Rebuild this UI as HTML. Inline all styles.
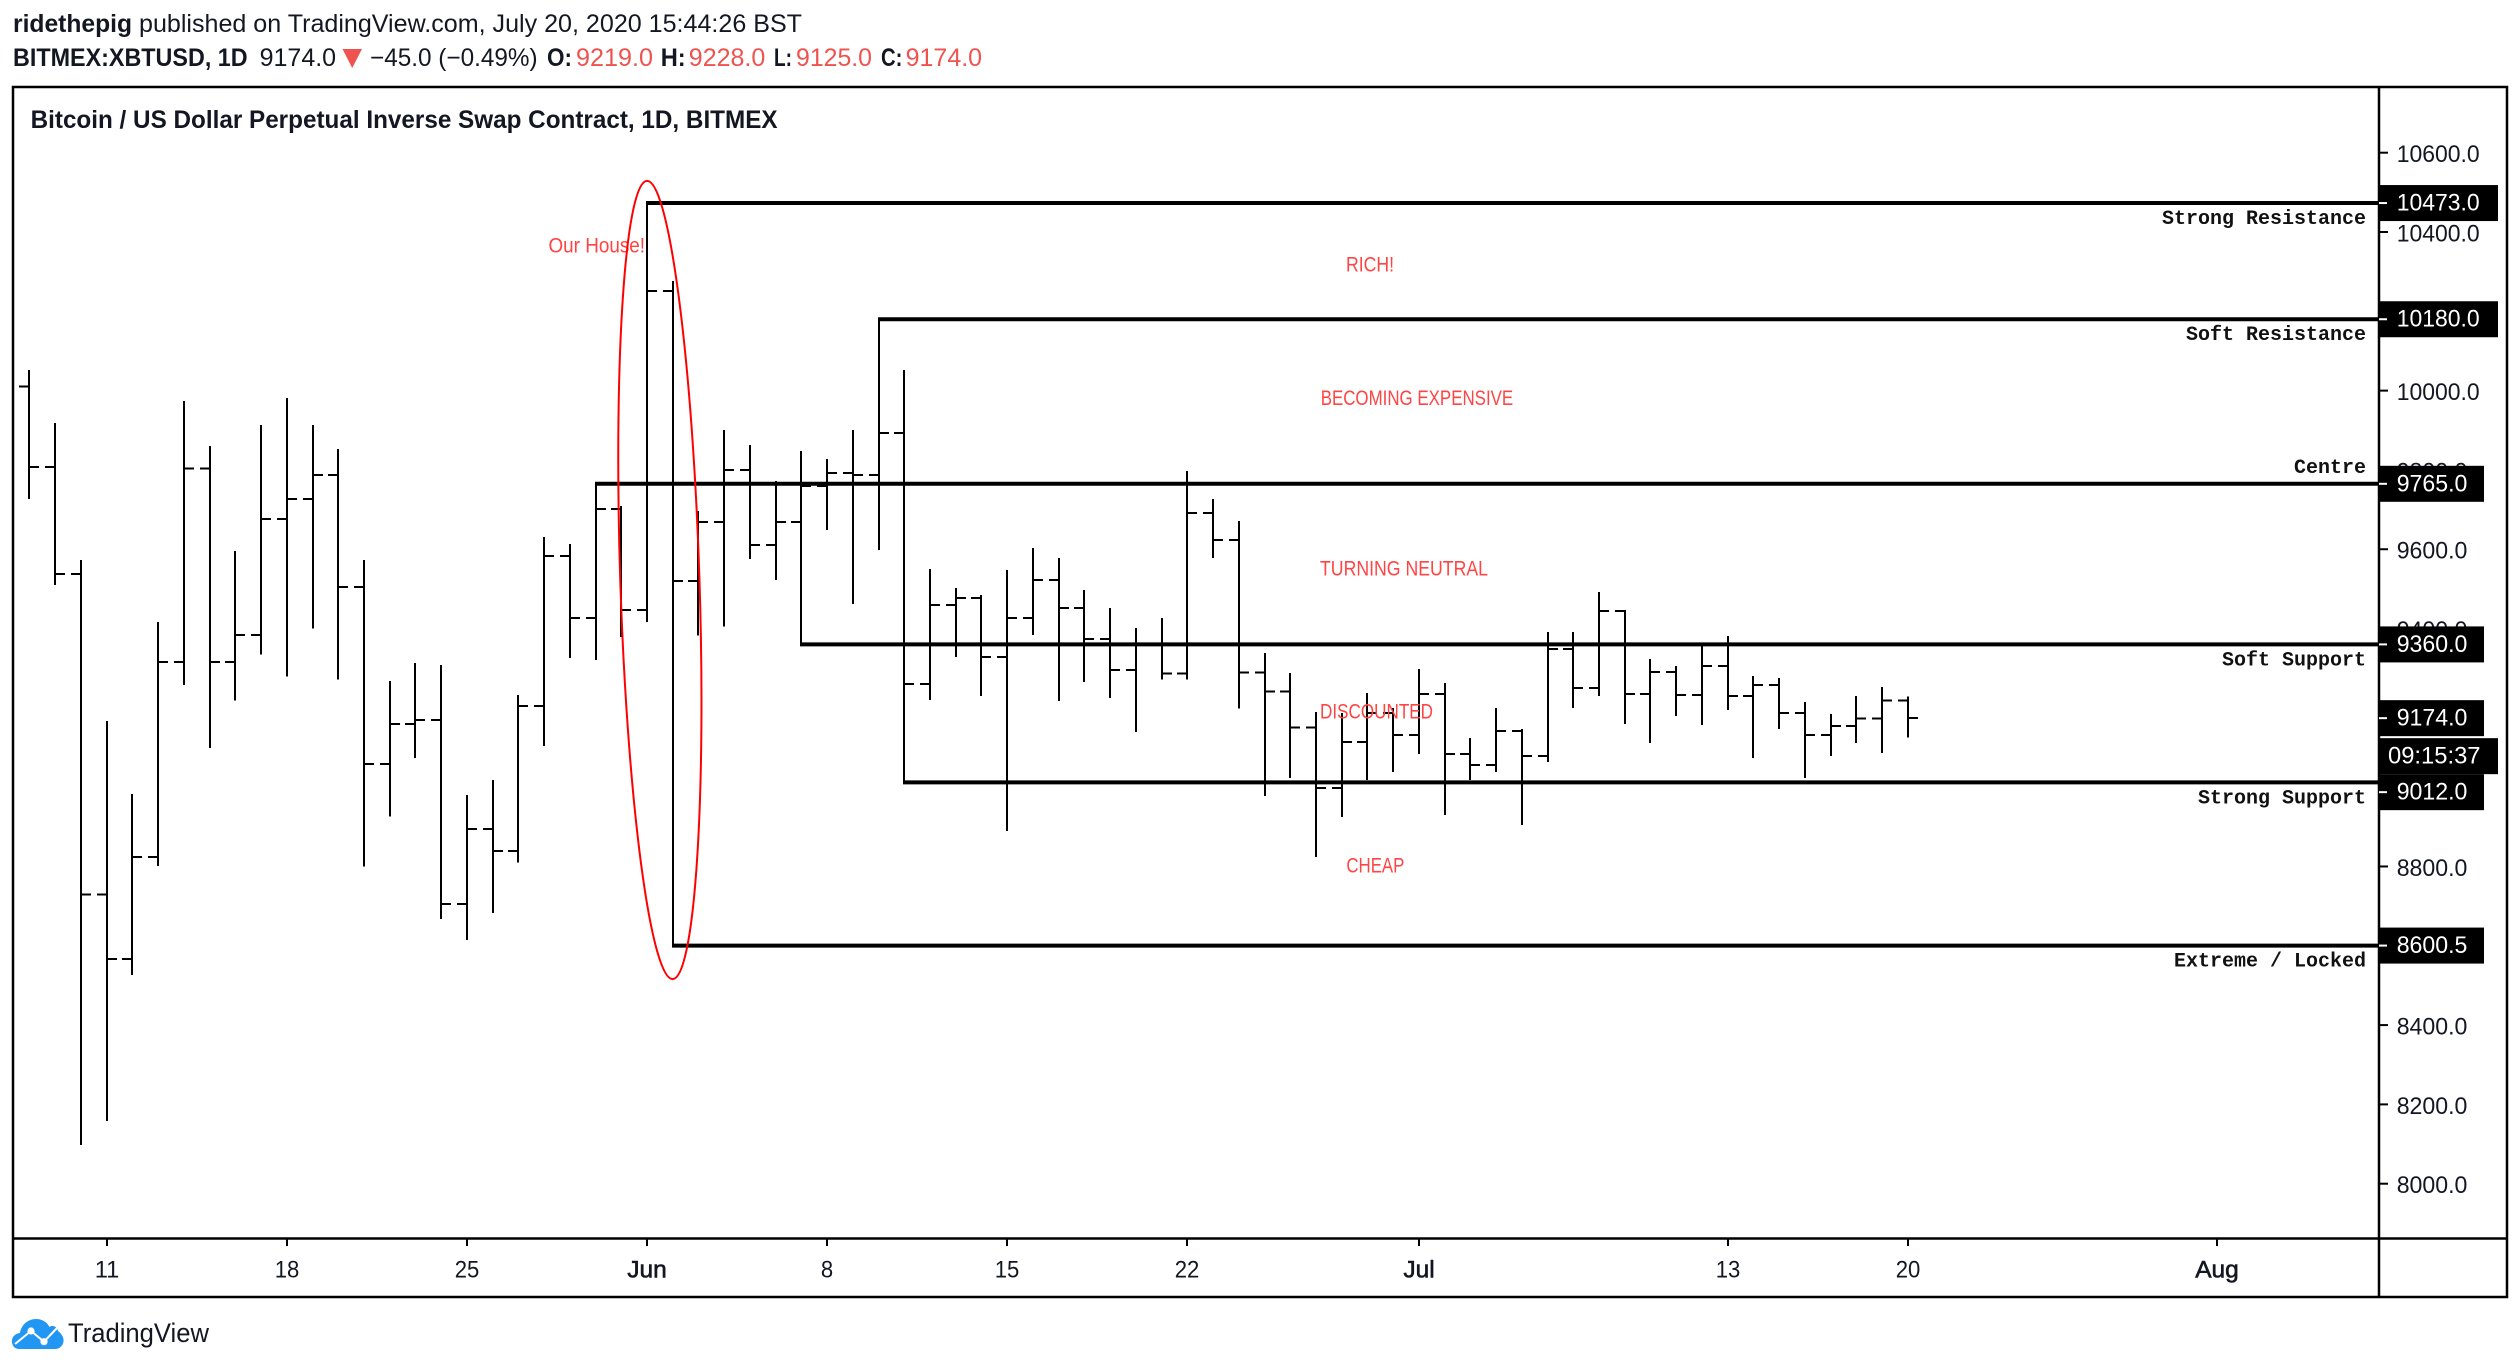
<!DOCTYPE html>
<html lang="en">
<head>
<meta charset="utf-8">
<title>BITMEX:XBTUSD 1D bar chart</title>
<style>
  html, body { margin: 0; padding: 0; background: #fff; }
  svg { display: block; }
  text { font-family: "Liberation Sans", sans-serif; }
  .mono { font-family: "Liberation Mono", monospace; font-weight: bold; font-size: 20px; fill: #111; }
  .note { font-size: 21px; fill: #ff4444; }
  .hdr { font-size: 25px; fill: #131722; }
  .red { fill: #ef5350; }
  .b { font-weight: bold; }
</style>
</head>
<body>
<svg id="chart" xmlns="http://www.w3.org/2000/svg" width="2520" height="1370" viewBox="0 0 2520 1370">
  <rect width="2520" height="1370" fill="#fff"/>

  <g dominant-baseline="central">
    <text class="hdr b" x="13" y="24" textLength="119" lengthAdjust="spacingAndGlyphs">ridethepig</text>
    <text class="hdr" x="139" y="24" textLength="663" lengthAdjust="spacingAndGlyphs">published on TradingView.com, July 20, 2020 15:44:26 BST</text>
    <text class="hdr b" x="13" y="58" textLength="234.6" lengthAdjust="spacingAndGlyphs">BITMEX:XBTUSD, 1D</text>
    <text class="hdr" x="259.6" y="58" textLength="76.5" lengthAdjust="spacingAndGlyphs">9174.0</text>
    <polygon points="342.5,49 362,49 352.2,68" fill="#ef5350"/>
    <text class="hdr" x="370" y="58" textLength="167.6" lengthAdjust="spacingAndGlyphs">−45.0 (−0.49%)</text>
    <text class="hdr b" x="547" y="58" textLength="25" lengthAdjust="spacingAndGlyphs">O:</text>
    <text class="hdr red" x="576" y="58" textLength="77" lengthAdjust="spacingAndGlyphs">9219.0</text>
    <text class="hdr b" x="660.7" y="58" textLength="25" lengthAdjust="spacingAndGlyphs">H:</text>
    <text class="hdr red" x="688.8" y="58" textLength="76.5" lengthAdjust="spacingAndGlyphs">9228.0</text>
    <text class="hdr b" x="774" y="58" textLength="18" lengthAdjust="spacingAndGlyphs">L:</text>
    <text class="hdr red" x="796" y="58" textLength="76" lengthAdjust="spacingAndGlyphs">9125.0</text>
    <text class="hdr b" x="881" y="58" textLength="21.4" lengthAdjust="spacingAndGlyphs">C:</text>
    <text class="hdr red" x="905.6" y="58" textLength="76.5" lengthAdjust="spacingAndGlyphs">9174.0</text>
  </g>

  <g id="frame" stroke="#000" stroke-width="2.5" fill="none">
    <rect x="13" y="87" width="2494" height="1210"/>
    <line x1="2379" y1="87" x2="2379" y2="1297"/>
    <line x1="13" y1="1238.5" x2="2507" y2="1238.5"/>
  </g>

  <text class="b" x="30.6" y="120" font-size="25" fill="#131722" dominant-baseline="central" textLength="747" lengthAdjust="spacingAndGlyphs">Bitcoin / US Dollar Perpetual Inverse Swap Contract, 1D, BITMEX</text>

  <g id="bars"></g>
  <g id="levels"></g>
  <g id="xaxis"></g>
  <g id="yaxis"></g>
  <g id="tags"></g>

  <g dominant-baseline="central">
    <text class="note" x="548.5" y="246" textLength="96.5" lengthAdjust="spacingAndGlyphs">Our House!</text>
    <text class="note" x="1346" y="265" textLength="48" lengthAdjust="spacingAndGlyphs">RICH!</text>
    <text class="note" x="1320.7" y="398.7" textLength="192.5" lengthAdjust="spacingAndGlyphs">BECOMING EXPENSIVE</text>
    <text class="note" x="1320" y="569" textLength="168" lengthAdjust="spacingAndGlyphs">TURNING NEUTRAL</text>
    <text class="note" x="1320" y="712" textLength="113" lengthAdjust="spacingAndGlyphs">DISCOUNTED</text>
    <text class="note" x="1346.4" y="866" textLength="58" lengthAdjust="spacingAndGlyphs">CHEAP</text>
  </g>

  <g>
    <path fill="#2196f3" d="M19 1349 C13 1349 11.5 1343 12 1340 C12.5 1336 16 1333.5 20 1333 C21 1325 28 1319 36 1319 C42 1319 47 1322 49.5 1327 C52 1325 57 1326 58 1331 C62 1334 64 1338 63.5 1341.5 C63 1346 59 1349 55 1349 Z"/>
    <polyline points="15,1344 31,1331 44,1341.7 57,1328" fill="none" stroke="#fff" stroke-width="2"/>
    <circle cx="31" cy="1331" r="3.6" fill="#fff"/>
    <circle cx="44" cy="1341.7" r="3.6" fill="#fff"/>
    <text x="68" y="1342" font-size="27" fill="#131722" textLength="141" lengthAdjust="spacingAndGlyphs">TradingView</text>
  </g>

  <g id="ellipse-layer"></g>
</svg>

<script>
// ---------- data ----------
const barDates = [
  '05-08','05-09','05-10','05-11','05-12','05-13','05-14','05-15','05-16','05-17','05-18','05-19','05-20','05-21','05-22','05-23','05-24','05-25','05-26','05-27','05-28','05-29','05-30','05-31',
  '06-01','06-02','06-03','06-04','06-05','06-06','06-07','06-08','06-09','06-10','06-11','06-12','06-13','06-14','06-15','06-16','06-17','06-18','06-19','06-20','06-21','06-22','06-23','06-24','06-25','06-26','06-27','06-28','06-29','06-30',
  '07-01','07-02','07-03','07-04','07-05','07-06','07-07','07-08','07-09','07-10','07-11','07-12','07-13','07-14','07-15','07-16','07-17','07-18','07-19','07-20'
];
const opens = [
  10010,9807,9538,8729,8567,8824,9316,9803,9316,9384,9676,9727,9787,9505,9058,9159,9169,8705,8895,8839,9205,9583,9427,9701,
  9447,10251,9520,9669,9800,9611,9669,9759,9792,9787,9893,9260,9459,9477,9328,9427,9522,9452,9374,9295,9360,9286,9692,9623,9289,9241,9150,8998,9114,9187,
  9132,9235,9084,9056,9142,9079,9348,9250,9444,9235,9290,9232,9306,9230,9258,9187,9132,9154,9173,9219
];
const highs = [
  10052,9918,9573,9167,8983,9417,9974,9860,9596,9913,9981,9913,9853,9573,9268,9313,9308,8980,9018,9232,9631,9613,9765,9709,
  10473,10276,9696,9901,9863,9772,9848,9828,9901,10180,10052,9550,9502,9485,9548,9603,9578,9497,9452,9401,9427,9797,9727,9671,9338,9288,9190,9187,9237,9200,
  9298,9263,9124,9200,9147,9391,9391,9492,9447,9323,9306,9359,9381,9280,9275,9215,9185,9230,9253,9228
];
const lows = [
  9727,9510,8098,8158,8526,8801,9258,9099,9218,9334,9279,9400,9271,8800,8926,9074,8668,8615,8683,8810,9104,9326,9321,9379,
  9417,8600.5,9382,9405,9576,9522,9360,9649,9462,9598,9012,9220,9328,9230,8889,9384,9217,9265,9225,9139,9271,9271,9578,9198,8978,9023,8824,8925,9018,9038,
  9084,8930,9018,9038,8905,9063,9200,9230,9159,9111,9179,9157,9195,9074,9147,9023,9079,9111,9086,9125
];
const closes = [
  9807,9538,8729,8567,8824,9316,9803,9316,9384,9676,9727,9787,9505,9058,9159,9169,8705,8895,8839,9205,9583,9427,9701,9447,
  10251,9520,9669,9800,9611,9669,9759,9792,9787,9893,9260,9459,9477,9328,9427,9522,9452,9374,9295,9360,9286,9692,9623,9289,9241,9150,8998,9114,9187,9132,
  9235,9084,9056,9142,9079,9348,9250,9444,9235,9290,9232,9306,9230,9258,9187,9132,9154,9173,9219,9174
];
const levelPrices = [10473, 10180, 9765, 9360, 9012, 8600.5];
const levelStarts = ['06-01', '06-10', '05-30', '06-07', '06-11', '06-02'];
const levelNames = ['Strong Resistance', 'Soft Resistance', 'Centre', 'Soft Support', 'Strong Support', 'Extreme / Locked'];
const levelSides = ['below', 'below', 'above', 'below', 'below', 'below'];
const priceTicks = [10600, 10400, 10200, 10000, 9800, 9600, 9400, 9200, 9000, 8800, 8600, 8400, 8200, 8000];
const timeTickDates = ['05-11', '05-18', '05-25', '06-01', '06-08', '06-15', '06-22', '07-01', '07-13', '07-20', '08-01'];
const timeTickLabels = ['11', '18', '25', 'Jun', '8', '15', '22', 'Jul', '13', '20', 'Aug'];
const lastPrice = 9174;
const countdownText = '09:15:37';
const ellipseTopAnchor = ['06-01', 10529];
const ellipseBottomAnchor = ['06-02', 8516];

// ---------- axis functions ----------
const PX_PER_DAY = 25.73, JUN1_X = 647, PX_PER_USD = 0.39654, Y_8000 = 1183.7;
const AXIS_FONT = 24.5;
function dayIndex(md) {
  const parts = md.split('-').map(Number);
  return (Date.UTC(2020, parts[0] - 1, parts[1]) - Date.UTC(2020, 5, 1)) / 86400000;
}
function xOf(md) { return JUN1_X + PX_PER_DAY * dayIndex(md); }
function yOf(price) { return Y_8000 - (price - 8000) * PX_PER_USD; }
function priceTextWidth(txt) { return (txt.length - 1) * 12.3 + 9.2; }

const SVG_NS = 'http://www.w3.org/2000/svg';
function make(tag, parent, attrs, text) {
  const el = document.createElementNS(SVG_NS, tag);
  for (const k in attrs) el.setAttribute(k, attrs[k]);
  if (text !== undefined) el.textContent = text;
  parent.appendChild(el);
  return el;
}

// ---------- bars ----------
const barsG = document.getElementById('bars');
barDates.forEach(function (d, i) {
  const x = Math.round(xOf(d));
  const g = make('g', barsG, { stroke: '#000', 'stroke-width': 2, 'shape-rendering': 'crispEdges' });
  
  
  const stem = make('line', g, { x1: x, x2: x, y1: yOf(highs[i]), y2: yOf(lows[i]) });
  
  
  const openTick = make('line', g, { x1: x - 10, x2: x, y1: yOf(opens[i]), y2: yOf(opens[i]) });
  
  
  const closeTick = make('line', g, { x1: x, x2: x + 10, y1: yOf(closes[i]), y2: yOf(closes[i]) });
  
  
});

// ---------- horizontal levels ----------
const levelsG = document.getElementById('levels');
levelPrices.forEach(function (p, i) {
  const y = yOf(p);
  const line = make('line', levelsG, { x1: Math.round(xOf(levelStarts[i])) - 1, x2: 2379, y1: y, y2: y, stroke: '#000', 'stroke-width': 4 });
  
  
  const offset = levelSides[i] === 'above' ? -15.5 : 16.5;
  const label = make('text', levelsG, { x: 2366, y: y + offset, 'text-anchor': 'end', 'dominant-baseline': 'central', class: 'mono' }, levelNames[i]);
  
  
});

// ---------- time axis ----------
const xG = document.getElementById('xaxis');
timeTickDates.forEach(function (d, i) {
  const x = Math.round(xOf(d));
  const tick = make('line', xG, { x1: x, x2: x, y1: 1238, y2: 1246, stroke: '#000', 'stroke-width': 2 });
  
  
  const isMonth = /[A-Za-z]/.test(timeTickLabels[i]);
  const attrs = { x: x, y: 1270, 'text-anchor': 'middle', 'dominant-baseline': 'central', 'font-size': AXIS_FONT, fill: '#131722' };
  if (isMonth) {
    attrs['stroke'] = '#131722';
    attrs['stroke-width'] = 0.6;
  } else {
    attrs['textLength'] = timeTickLabels[i].length * 12.3;
    attrs['lengthAdjust'] = 'spacingAndGlyphs';
  }
  const label = make('text', xG, attrs, timeTickLabels[i]);
  
  
});

// ---------- price axis ----------
const yG = document.getElementById('yaxis');
priceTicks.forEach(function (p) {
  const y = yOf(p);
  const txt = p.toFixed(1);
  const tick = make('line', yG, { x1: 2379, x2: 2388, y1: y, y2: y, stroke: '#000', 'stroke-width': 2 });
  
  
  const label = make('text', yG, { x: 2396.7, y: y + 2, 'dominant-baseline': 'central', 'font-size': AXIS_FONT, fill: '#131722', textLength: priceTextWidth(txt), lengthAdjust: 'spacingAndGlyphs' }, txt);
  
  
});

// ---------- price tags ----------
const tagsG = document.getElementById('tags');
const TAG_H = 36;
const lastY = yOf(lastPrice);
const countdownTop = lastY + 20, countdownBottom = countdownTop + TAG_H;
function drawTag(price, name) {
  const txt = price.toFixed(1);
  let top = yOf(price) - TAG_H / 2;
  if (top < countdownBottom && top + TAG_H > countdownTop && price !== lastPrice) top = countdownBottom;
  const box = make('rect', tagsG, { x: 2378, y: top, width: txt.length > 6 ? 120 : 106, height: TAG_H, fill: '#000' });
  
  
  const tick = make('line', tagsG, { x1: 2379, x2: 2387, y1: top + TAG_H / 2, y2: top + TAG_H / 2, stroke: '#fff', 'stroke-width': 2 });
  
  
  const label = make('text', tagsG, { x: 2396.7, y: top + TAG_H / 2, 'dominant-baseline': 'central', 'font-size': AXIS_FONT, fill: '#fff', textLength: priceTextWidth(txt), lengthAdjust: 'spacingAndGlyphs' }, txt);
  
  
}
levelPrices.forEach(function (p) { drawTag(p, 'level-tag'); });
drawTag(lastPrice, 'last-price-tag');
const cdBox = make('rect', tagsG, { x: 2378, y: countdownTop, width: 120, height: TAG_H, fill: '#000' });


const cdText = make('text', tagsG, { x: 2388, y: countdownTop + TAG_H / 2, 'dominant-baseline': 'central', 'font-size': AXIS_FONT, fill: '#fff', textLength: 92.5, lengthAdjust: 'spacingAndGlyphs' }, countdownText);



// ---------- red ellipse ----------
const ellG = document.getElementById('ellipse-layer');
const ex1 = xOf(ellipseTopAnchor[0]), ey1 = yOf(ellipseTopAnchor[1]);
const ex2 = xOf(ellipseBottomAnchor[0]), ey2 = yOf(ellipseBottomAnchor[1]);
const ecx = (ex1 + ex2) / 2, ecy = (ey1 + ey2) / 2;
const eRy = Math.hypot(ex2 - ex1, ey2 - ey1) / 2;
const eAngle = -Math.atan2(ex2 - ex1, ey2 - ey1) * 180 / Math.PI;
const ell = make('ellipse', ellG, { cx: ecx, cy: ecy, rx: 39.6, ry: eRy, fill: 'none', stroke: '#ff0000', 'stroke-width': 2, transform: 'rotate(' + eAngle + ' ' + ecx + ' ' + ecy + ')' });


</script>
</body>
</html>
